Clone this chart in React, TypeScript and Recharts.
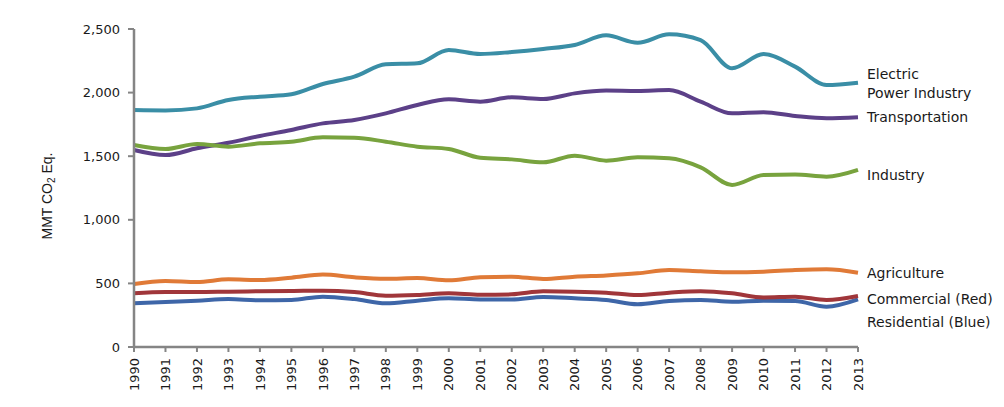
import React from "react";
import { LineChart, Line, XAxis, YAxis, LabelList } from "recharts";

const years = [
  "1990", "1991", "1992", "1993", "1994", "1995", "1996", "1997", "1998", "1999", "2000", "2001",
  "2002", "2003", "2004", "2005", "2006", "2007", "2008", "2009", "2010", "2011", "2012", "2013",
];
const electric = [1863, 1860, 1876, 1942, 1968, 1987, 2068, 2125, 2222, 2230, 2335, 2303, 2319, 2343, 2374, 2450, 2392, 2458, 2413, 2191, 2303, 2204, 2060, 2078];
const transportation = [1549, 1509, 1562, 1606, 1659, 1706, 1758, 1785, 1837, 1903, 1947, 1929, 1963, 1950, 1994, 2016, 2013, 2020, 1929, 1837, 1845, 1816, 1798, 1806];
const industry = [1588, 1557, 1596, 1575, 1601, 1614, 1648, 1645, 1614, 1575, 1557, 1488, 1475, 1452, 1504, 1465, 1491, 1483, 1412, 1274, 1352, 1356, 1339, 1392];
const agriculture = [495, 519, 511, 532, 527, 545, 569, 548, 537, 542, 524, 548, 553, 535, 553, 563, 579, 605, 595, 587, 592, 605, 611, 584];
const commercial = [422, 432, 432, 435, 438, 440, 443, 432, 403, 409, 422, 411, 414, 438, 435, 427, 409, 427, 438, 422, 390, 396, 370, 401];
const residential = [343, 354, 364, 377, 367, 370, 396, 377, 343, 364, 383, 374, 374, 393, 383, 370, 336, 362, 370, 356, 364, 362, 317, 374];
const yTicks = [0, 500, 1000, 1500, 2000, 2500];

const data = years.map((year, i) => ({
  year,
  electric: electric[i],
  transportation: transportation[i],
  industry: industry[i],
  agriculture: agriculture[i],
  commercial: commercial[i],
  residential: residential[i],
}));

const FONT = "'DejaVu Sans', Verdana, sans-serif";
const TEXT = "#1a1a1a";
const AXIS = "#858585";

const XTick = (props: any) => {
  const { x, y, payload } = props;
  const yy = y + 4;
  return (
    <text
      x={x}
      y={yy}
      transform={`rotate(-90, ${x}, ${yy})`}
      textAnchor="end"
      dy="0.36em"
      fontSize={13}
      fontFamily={FONT}
      fill={TEXT}
    >
      {payload.value}
    </text>
  );
};

const YLabel = (props: any) => {
  const vb = props.viewBox || { x: 0, y: 0, width: 0, height: 0 };
  const cx = vb.x + 27;
  const cy = vb.y + vb.height / 2 + 8;
  return (
    <text
      x={cx}
      y={cy}
      transform={`rotate(-90, ${cx}, ${cy})`}
      textAnchor="middle"
      dominantBaseline="central"
      fontSize={14}
      fontFamily="'Liberation Sans', Arial, sans-serif"
      fill={TEXT}
    >
      MMT CO
      <tspan fontSize={10} dy={4}>2</tspan>
      <tspan dy={-4}> Eq.</tspan>
    </text>
  );
};

const makeEndLabel = (lines: string[], offsets: number[]) => (props: any) => {
  const { x, y, index } = props;
  if (index !== years.length - 1) return null;
  return (
    <g>
      {lines.map((t, k) => (
        <text
          key={k}
          x={x + 9}
          y={y + offsets[k]}
          dominantBaseline="central"
          fontSize={14}
          fontFamily={FONT}
          fill={TEXT}
        >
          {t}
        </text>
      ))}
    </g>
  );
};

const series = [
  { key: "electric", color: "#3a8ea6", label: ["Electric", "Power Industry"], off: [-9, 10] },
  { key: "transportation", color: "#5c4088", label: ["Transportation"], off: [0] },
  { key: "industry", color: "#78a33e", label: ["Industry"], off: [5] },
  { key: "agriculture", color: "#e07a37", label: ["Agriculture"], off: [0] },
  { key: "residential", color: "#3e66a8", label: ["Residential (Blue)"], off: [23] },
  { key: "commercial", color: "#a0363a", label: ["Commercial (Red)"], off: [3] },
];

export default function App() {
  return (
    <div style={{ position: "absolute", left: 0, top: 0, background: "#fff" }}>
      <LineChart
        width={1004}
        height={407}
        data={data}
        margin={{ top: 29, right: 146, bottom: 10, left: 20 }}
      >
        <XAxis
          dataKey="year"
          interval={0}
          height={50}
          tick={<XTick />}
          tickSize={5}
          axisLine={{ stroke: AXIS, strokeWidth: 2.5 }}
          tickLine={{ stroke: AXIS, strokeWidth: 2 }}
        />
        <YAxis
          width={114}
          domain={[0, 2500]}
          ticks={yTicks}
          interval={0}
          tickSize={6}
          tickMargin={8}
          tickFormatter={(v: number) => v.toLocaleString("en-US")}
          tick={{ fontSize: 13, fontFamily: FONT, fill: TEXT }}
          axisLine={{ stroke: AXIS, strokeWidth: 2.5 }}
          tickLine={{ stroke: AXIS, strokeWidth: 2 }}
          label={<YLabel />}
        />
        {series.map((s) => (
          <Line
            key={s.key}
            type="monotone"
            dataKey={s.key}
            stroke={s.color}
            strokeWidth={4}
            dot={false}
            activeDot={false}
            isAnimationActive={false}
          >
            <LabelList dataKey={s.key} content={makeEndLabel(s.label, s.off)} />
          </Line>
        ))}
      </LineChart>
    </div>
  );
}
